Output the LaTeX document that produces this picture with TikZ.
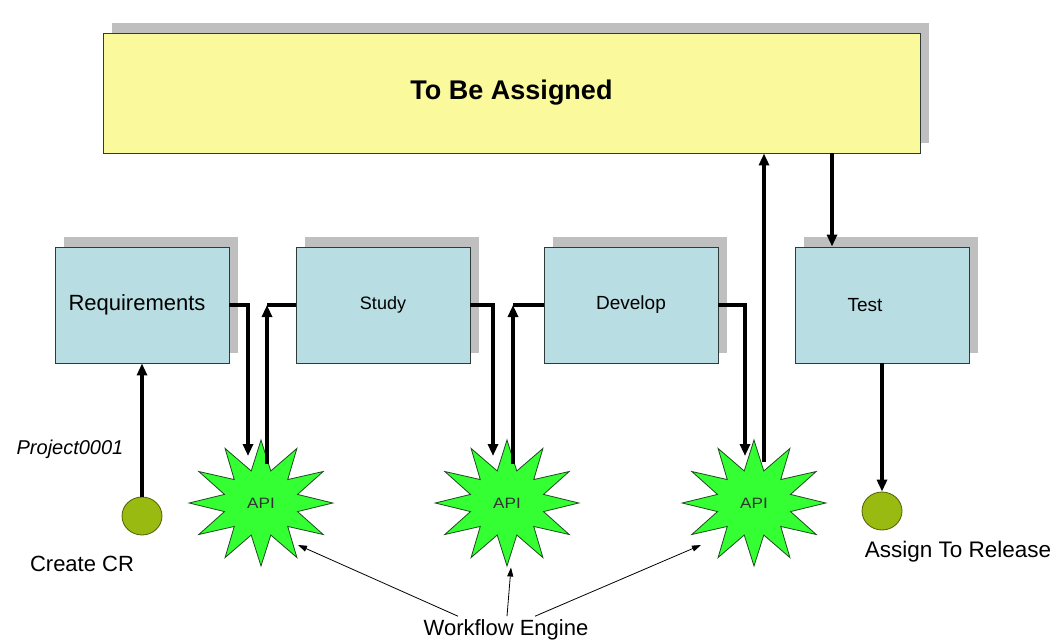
\documentclass[tikz,border=0pt]{standalone}
\usepackage{fontspec}
\setmainfont{Liberation Sans}
\usetikzlibrary{arrows.meta,shapes.geometric,shadows,positioning}

\definecolor{tbayellow}{HTML}{FAF99C}
\definecolor{stageblue}{HTML}{B8DDE2}
\definecolor{shadowgray}{HTML}{BFBFBF}
\definecolor{boxline}{HTML}{2F3A3A}
\definecolor{stargreen}{HTML}{33FF33}
\definecolor{stardark}{HTML}{1E4A1E}
\definecolor{olive}{HTML}{99BB11}
\definecolor{olivedark}{HTML}{4F5F00}

\tikzset{
  basic/.style  = {draw=boxline, line width=0.9pt, rectangle, inner sep=0pt,
                   drop shadow={shadow xshift=9pt, shadow yshift=10pt,
                                fill=shadowgray, opacity=1}},
  pool/.style   = {basic, fill=tbayellow, minimum width=817pt,
                   minimum height=120pt, font=\fontsize{27}{31}\selectfont\bfseries},
  stage/.style  = {basic, fill=stageblue, minimum width=174pt,
                   minimum height=116pt, font=\fontsize{19}{23}\selectfont},
  api/.style    = {star, star points=12, star point ratio=1.9, draw=stardark,
                   fill=stargreen, line width=0.8pt, minimum size=126pt,
                   inner sep=0pt, xscale=1.14, transform shape,
                   font=\fontsize{15}{18}\selectfont, text=black!80},
  endpoint/.style = {ellipse, draw=olivedark, fill=olive, line width=0.8pt,
                   minimum width=40pt, minimum height=38pt},
  note/.style   = {font=\fontsize{22}{26}\selectfont},
  flow/.style   = {line width=3.2pt, -{Triangle[length=12pt,width=10pt]}},
  hook/.style   = {line width=3.2pt},
  engine/.style = {line width=0.8pt, -{Triangle[length=9pt,width=6pt]}}
}

\begin{document}
\begin{tikzpicture}[x=1pt, y=-1pt]
\useasboundingbox (0,0) rectangle (1055,642);

% pool on top
\node[pool] (tba) at (511.5,93) {To Be Assigned};

% the stages
\node[stage, font=\fontsize{22}{26}\selectfont] (req) at (142,305) {Requirements\hspace*{10pt}};
\node[stage, font=\fontsize{18}{22}\selectfont] (study) at (383,305) {Study};
\node[stage] (develop) at (631,305) {Develop};
\node[stage] (test) at (882,305) {Test\hspace*{34pt}};

% workflow engine calls
\node[api] (api1) at (261,503) {API};
\node[api] (api2) at (507,503) {API};
\node[api] (api3) at (754,503) {API};

% start and end
\node[endpoint] (cr) at (142,516) {};
\node[endpoint] (rel) at (882,511) {};

\node[note, font=\fontsize{20}{24}\selectfont\itshape] (proj) at (70,449) {Project0001};
\node[note] (crlabel) at (82,564) {Create CR};
\node[note, font=\fontsize{22.5}{26}\selectfont] (rellabel) at (958,552) {Assign To Release};
\node[note] (wf) at (506,630) {Workflow Engine};

% ends of the connectors
\coordinate (d1) at (248,456);
\coordinate (d2) at (493,456);
\coordinate (d3) at (745,456);
\coordinate (u1) at (267,464);
\coordinate (u2) at (513,464);
\coordinate (u3) at (764,462);
\coordinate (t1) at (832,153);

% stage -> API
\draw[flow] (req.east) -| (d1);
\draw[flow] (study.east) -| (d2);
\draw[flow] (develop.east) -| (d3);

% API -> next stage
\draw[flow] (u1) -- (u1 |- study.west);
\draw[hook] (u1 |- study.west) -- (study.west);
\draw[flow] (u2) -- (u2 |- develop.west);
\draw[hook] (u2 |- develop.west) -- (develop.west);
\draw[flow] (u3) -- (u3 |- tba.south);
\draw[flow] (t1) -- (t1 |- test.north);

\draw[flow] (cr.north) -- (cr.north |- req.south);
\draw[flow] (test.south -| rel) -- (rel.north);

% engine
\draw[engine] ([xshift=-48pt]wf.north) -- ([xshift=37pt,yshift=-42pt]api1.center);
\draw[engine] ([xshift=1pt]wf.north) -- ([xshift=4pt]api2.south);
\draw[engine] ([xshift=29pt]wf.north) -- ([xshift=-53pt,yshift=-42pt]api3.center);
\end{tikzpicture}
\end{document}
